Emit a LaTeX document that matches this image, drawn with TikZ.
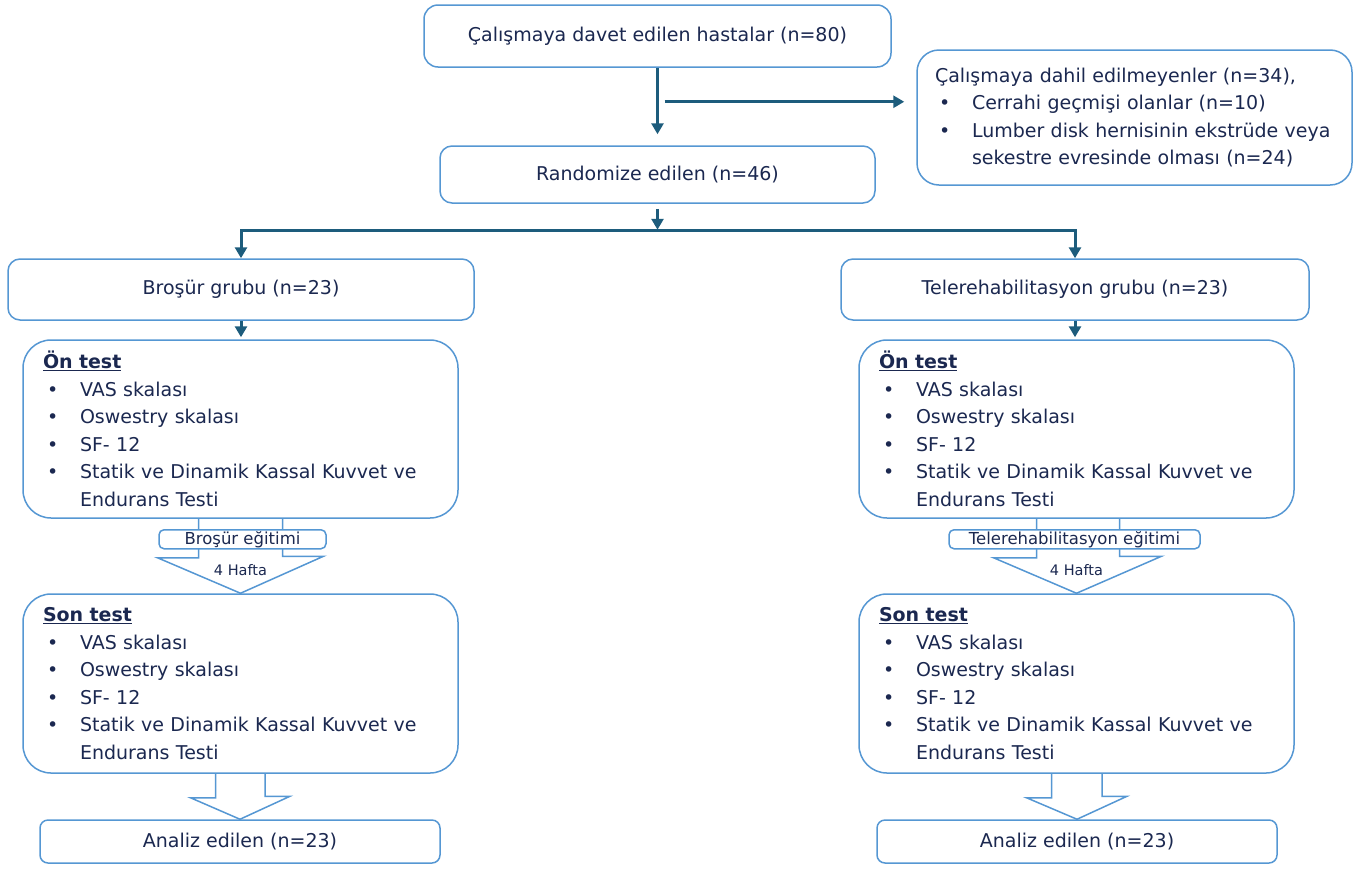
\documentclass[tikz,border=0pt]{standalone}
\usepackage{fontspec}
\setmainfont{DejaVu Sans}
\usetikzlibrary{arrows.meta,calc,backgrounds}

\definecolor{boxline}{HTML}{5597D3}
\definecolor{arrowc}{HTML}{1D5C7C}
\definecolor{txt}{HTML}{1B2850}

\tikzstyle{box} = [draw=boxline, line width=1.5pt, fill=white, text=txt, font=\fontsize{19}{27.5}\selectfont, inner sep=0pt]
\tikzstyle{listbox} = [box, align=left, text width=395pt, inner xsep=20pt, minimum width=435pt, rounded corners=28pt]
\tikzstyle{tag} = [box, rounded corners=5pt, font=\fontsize{16.5}{18}\selectfont, minimum height=19pt]
\tikzstyle{weeks} = [text=txt, font=\fontsize{14.5}{16}\selectfont, inner sep=0pt]
\tikzstyle{arr} = [draw=arrowc, line width=3pt, -{Triangle[length=11pt,width=12pt]}]
\tikzstyle{blk} = [draw=boxline, line width=1.5pt, fill=white, line join=miter]

\newcommand{\bul}[1]{\hspace*{4pt}\makebox[33pt][l]{\textbullet}#1}

\begin{document}
\begin{tikzpicture}[x=1pt, y=-1pt]
\useasboundingbox (0,0) rectangle (1367,868);

\node[box, rounded corners=14pt, minimum width=467pt, minimum height=62pt] (invited) at (657.5,36) {Çalışmaya davet edilen hastalar (n=80)};
\node[box, rounded corners=22pt, align=left, text width=399pt, inner xsep=18pt, minimum height=135pt] (excluded) at (1134.5,117.5)
    {Çalışmaya dahil edilmeyenler (n=34),\\
     \bul{Cerrahi geçmişi olanlar (n=10)}\\
     \bul{Lumber disk hernisinin ekstrüde veya}\\
     \hspace*{37pt}sekestre evresinde olması (n=24)};
\node[box, rounded corners=12pt, minimum width=435pt, minimum height=57pt] (random) at (657.5,174.5) {Randomize edilen (n=46)};

% groups
\node[box, rounded corners=12pt, minimum width=466pt, minimum height=61pt] (grpA) at (241,289.5) {Broşür grubu (n=23)};
\node[box, rounded corners=12pt, minimum width=468pt, minimum height=61pt] (grpB) at (1075,289.5) {Telerehabilitasyon grubu (n=23)};

\node[listbox, minimum height=178pt] (preA) at (240.5,429)
    {\textbf{\underline{Ön test}}\\
     \bul{VAS skalası}\\
     \bul{Oswestry skalası}\\
     \bul{SF- 12}\\
     \bul{Statik ve Dinamik Kassal Kuvvet ve}\\
     \hspace*{37pt}Endurans Testi};
\node[listbox, minimum height=178pt] (preB) at (1076.5,429)
    {\textbf{\underline{Ön test}}\\
     \bul{VAS skalası}\\
     \bul{Oswestry skalası}\\
     \bul{SF- 12}\\
     \bul{Statik ve Dinamik Kassal Kuvvet ve}\\
     \hspace*{37pt}Endurans Testi};

\node[listbox, minimum height=179pt] (postA) at (240.5,683.5)
    {\textbf{\underline{Son test}}\\
     \bul{VAS skalası}\\
     \bul{Oswestry skalası}\\
     \bul{SF- 12}\\
     \bul{Statik ve Dinamik Kassal Kuvvet ve}\\
     \hspace*{37pt}Endurans Testi};
\node[listbox, minimum height=179pt] (postB) at (1076.5,683.5)
    {\textbf{\underline{Son test}}\\
     \bul{VAS skalası}\\
     \bul{Oswestry skalası}\\
     \bul{SF- 12}\\
     \bul{Statik ve Dinamik Kassal Kuvvet ve}\\
     \hspace*{37pt}Endurans Testi};

\node[box, rounded corners=8pt, minimum width=400pt, minimum height=43pt] (anA) at (240,841.5) {Analiz edilen (n=23)};
\node[box, rounded corners=8pt, minimum width=400pt, minimum height=43pt] (anB) at (1077,841.5) {Analiz edilen (n=23)};

% block arrows
\begin{scope}[on background layer]
\draw[blk] ($(preA.south)+(-42,0)$) -- ++(0,39) -- ++(-41,0) -- (postA.north) -- ++(83,-37) -- ++(-41,0) -- ++(0,-39);
\draw[blk] ($(preB.south)+(-40,0)$) -- ++(0,39) -- ++(-43,0) -- (postB.north) -- ++(85,-37) -- ++(-42,0) -- ++(0,-39);
\draw[blk] ($(postA.south)+(-25,0)$) -- ++(0,24) -- ++(-25,0) -- (anA.north) -- ++(50,-23) -- ++(-25,0) -- ++(0,-24);
\draw[blk] ($(postB.south)+(-25,0)$) -- ++(0,24) -- ++(-25,0) -- (anB.north) -- ++(50,-23) -- ++(-25,0) -- ++(0,-24);
\end{scope}

\node[tag, minimum width=167pt] (trainA) at ($(preA.south)+(2,20.5)$) {Broşür eğitimi};
\node[tag, minimum width=251pt] (trainB) at ($(preB.south)+(-2,20.5)$) {Telerehabilitasyon eğitimi};
\node[weeks] (weekA) at ($(preA.south)+(0,51)$) {4 Hafta};
\node[weeks] (weekB) at ($(preB.south)+(0,51)$) {4 Hafta};

% connectors
\draw[arr, shorten >=11pt] (invited) -- (random);
\coordinate (brk) at ($(invited.south)+(7,34)$);
\draw[arr, shorten >=12pt] (brk) -- (brk -| excluded.west);
\coordinate (split) at ($(random.south)+(0,27)$);
\draw[arr, shorten <=5pt, shorten >=1pt] (random) -- (split);
\draw[arr] (split) -| (grpA.north);
\draw[arr] (split) -| (grpB.north);
\draw[arr, shorten >=2pt] (grpA.south) -- (grpA.south |- preA.north);
\draw[arr, shorten >=2pt] (grpB.south) -- (grpB.south |- preB.north);
\end{tikzpicture}
\end{document}
